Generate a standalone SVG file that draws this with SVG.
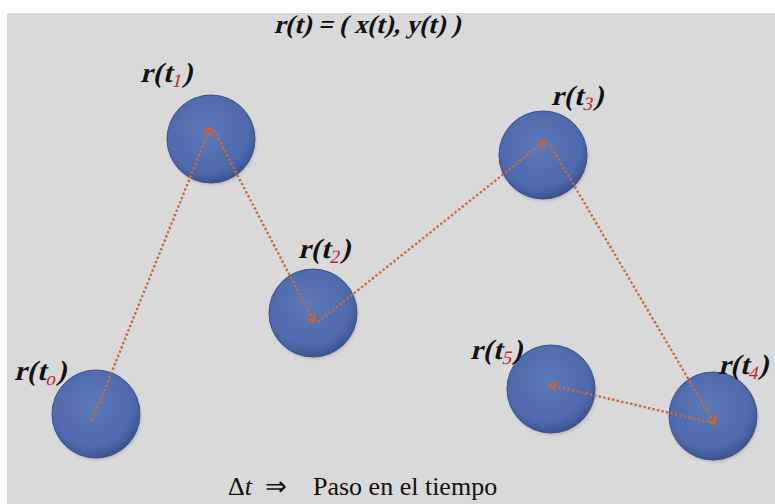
<svg xmlns="http://www.w3.org/2000/svg" width="775" height="504" viewBox="0 0 775 504">
<style>
.lbl{font-family:"Liberation Serif",serif;font-weight:bold;font-size:28px;fill:#111;letter-spacing:0.5px}
.sub{font-size:19px;fill:#c0272d;font-weight:normal}
.ball{fill:url(#g);stroke:#3a4f86;stroke-width:1}
.con{fill:none;stroke:#c9693f;stroke-width:2.4;stroke-dasharray:2.4 2.2;marker-end:url(#ar)}
.txt{font-family:"Liberation Serif",serif;font-size:26px;fill:#111}
</style>
<defs>
<radialGradient id="g" cx="0.45" cy="0.4" r="0.6">
<stop offset="0" stop-color="#5b78b8"/>
<stop offset="0.8" stop-color="#4d69ab"/>
<stop offset="1" stop-color="#3c5492"/>
</radialGradient>
<filter id="sh" x="-20%" y="-20%" width="140%" height="140%"><feGaussianBlur stdDeviation="1.5"/></filter>
<marker id="ar" markerWidth="12" markerHeight="12" refX="8" refY="6" orient="auto" markerUnits="userSpaceOnUse">
<path d="M1,1.5 L8,6 L1,10.5" fill="none" stroke="#d0602e" stroke-width="2.2"/>
</marker>
</defs>
<rect x="0" y="0" width="775" height="504" fill="#fff"/>
<rect x="7" y="13" width="768" height="491" fill="#d9d9d9"/>
<text class="lbl" transform="translate(367,33) skewX(-14)" text-anchor="middle" style="font-size:26px;letter-spacing:0">r(t) = ( x(t), y(t) )</text>
<g id="n0"><circle cx="97" cy="416" r="44" fill="#7a7a90" opacity="0.35" filter="url(#sh)"/><circle class="ball" cx="96" cy="414" r="44"/><text class="lbl" transform="translate(14,380) skewX(-14)">r(t<tspan class="sub" dy="5">o</tspan><tspan dy="-5">)</tspan></text></g>
<g id="n1"><circle cx="212" cy="141" r="44" fill="#7a7a90" opacity="0.35" filter="url(#sh)"/><circle class="ball" cx="211" cy="139" r="44"/><text class="lbl" transform="translate(140,82) skewX(-14)">r(t<tspan class="sub" dy="5">1</tspan><tspan dy="-5">)</tspan></text></g>
<g id="n2"><circle cx="314" cy="315" r="44" fill="#7a7a90" opacity="0.35" filter="url(#sh)"/><circle class="ball" cx="313" cy="313" r="44"/><text class="lbl" transform="translate(298,258) skewX(-14)">r(t<tspan class="sub" dy="5">2</tspan><tspan dy="-5">)</tspan></text></g>
<g id="n3"><circle cx="544" cy="157" r="44" fill="#7a7a90" opacity="0.35" filter="url(#sh)"/><circle class="ball" cx="543" cy="155" r="44"/><text class="lbl" transform="translate(551,105) skewX(-14)">r(t<tspan class="sub" dy="5">3</tspan><tspan dy="-5">)</tspan></text></g>
<g id="n4"><circle cx="714" cy="418" r="44" fill="#7a7a90" opacity="0.35" filter="url(#sh)"/><circle class="ball" cx="713" cy="416" r="44"/><text class="lbl" transform="translate(718,374) skewX(-14)" style="letter-spacing:0">r(t<tspan class="sub" dy="5">4</tspan><tspan dy="-5">)</tspan></text></g>
<g id="n5"><circle cx="552" cy="391" r="44" fill="#7a7a90" opacity="0.35" filter="url(#sh)"/><circle class="ball" cx="551" cy="389" r="44"/><text class="lbl" transform="translate(470,359) skewX(-14)">r(t<tspan class="sub" dy="5">5</tspan><tspan dy="-5">)</tspan></text></g>
<g id="connectors">
<line class="con" x1="92" y1="421" x2="210" y2="128"/>
<line class="con" x1="214" y1="130" x2="314" y2="322"/>
<line class="con" x1="318" y1="322" x2="545" y2="141"/>
<line class="con" x1="549" y1="143" x2="715" y2="424"/>
<line class="con" x1="713" y1="423" x2="550" y2="385"/>
</g>
<text class="txt" y="495"><tspan x="228">Δ</tspan><tspan font-style="italic">t</tspan><tspan x="265">⇒</tspan><tspan x="313">Paso en el tiempo</tspan></text>
</svg>
